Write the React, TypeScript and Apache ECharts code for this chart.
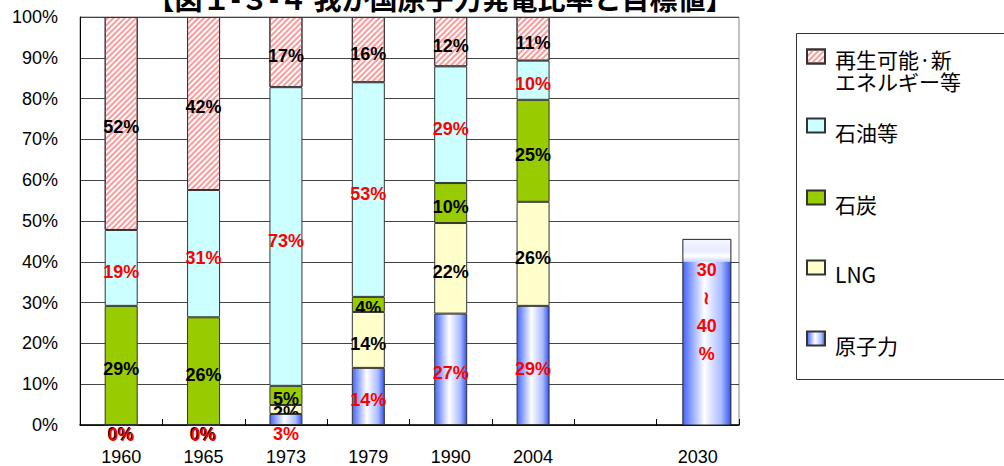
import React, { useEffect, useRef } from 'react';
import * as echarts from 'echarts';

const title = '【図１-３-４ 我が国原子力発電比率と目標値】';
const years = ['1960', '1965', '1973', '1979', '1990', '2004', '', '2030'];
const nuclear = [0, 0, 2.7, 14.0, 27.3, 29.2, null, null];
const lng = [0, 0, 2.2, 13.7, 22.2, 25.5, null, null];
const coal = [29.2, 26.4, 4.7, 3.7, 9.8, 25.0, null, null];
const oil = [18.6, 31.2, 73.2, 52.6, 28.6, 9.6, null, null];
const renewable = [52.2, 42.4, 17.2, 16.0, 12.1, 10.7, null, null];
const target2030Range = [30, 40];
const bar2030 = [40, 5.5]; // solid part, faded top part

const seriesNames = ['原子力', 'LNG', '石炭', '石油等', '再生可能·新エネルギー等'];
const renewableLegendLines = ['再生可能·新', 'エネルギー等'];

const labelFont = { fontFamily: 'Liberation Sans', fontSize: 18, fontWeight: 'bold' as const };

const nuclearGradient = {
  type: 'linear', x: 0, y: 0, x2: 1, y2: 0,
  colorStops: [
    { offset: 0, color: '#4466ff' },
    { offset: 0.45, color: '#ffffff' },
    { offset: 0.8, color: '#aabbff' },
    { offset: 1, color: '#3355ee' },
  ],
};

function fmt(p: any) {
  const v = Array.isArray(p.value) ? p.value[1] : p.value;
  if (v == null || v === '') return '';
  return Math.round(Number(v)) + '%';
}

export default function App() {
  const ref = useRef<HTMLDivElement>(null);
  useEffect(() => {
    document.body.style.margin = '0';
    const chart = echarts.init(ref.current!, null, { renderer: 'svg' });

    const barBase = (name: string, data: any[], color: any, labelColor: string, z: number, extra: any = {}) => ({
      type: 'bar',
      name,
      stack: 'total',
      barWidth: 33,
      z,
      data,
      itemStyle: { color, borderColor: '#333', borderWidth: 1, ...(extra.itemStyle || {}) },
      label: {
        show: true,
        position: 'inside',
        offset: [0, 4],
        formatter: fmt,
        color: labelColor,
        ...labelFont,
      },
    });

    const nuclearData = nuclear.map((v) =>
      v != null && v < 5 ? { value: v, label: { position: 'bottom', distance: 0, offset: [0, 0] } } : v
    );
    const lngData = lng.map((v) =>
      v != null && v === 0 ? { value: v, label: { position: 'bottom', distance: 0, offset: [-1, -1] } } : v
    );

    const legendCommon = {
      orient: 'vertical',
      left: 806,
      padding: 0,
      itemWidth: 18,
      itemHeight: 14,
      icon: 'rect',
      selectedMode: false,
    };
    const legendText = (spacer: number) => ({
      fontFamily: 'Noto Sans CJK JP',
      fontSize: 21,
      color: '#000',
      rich: {
        s: { fontSize: 1, lineHeight: spacer },
        t: { fontFamily: 'Noto Sans CJK JP', fontSize: 21, lineHeight: 22, color: '#000', padding: [0, 0, 0, 5] },
      },
    });
    const single = (name: string) => `{s| }\n{t|${name}}`;

    const option: any = {
      animation: false,
      backgroundColor: '#ffffff',
      grid: {
        left: 80,
        right: 265,
        top: 17,
        bottom: 41,
        show: true,
        borderColor: '#888',
        borderWidth: 1,
        backgroundColor: '#fff',
      },
      xAxis: {
        type: 'category',
        data: years,
        axisLine: { lineStyle: { color: '#000', width: 1.5 } },
        axisTick: { show: true, inside: true, length: 6, lineStyle: { color: '#000' } },
        axisLabel: {
          interval: 0,
          margin: 23,
          color: '#000',
          fontFamily: 'Liberation Sans',
          fontSize: 18,
        },
      },
      yAxis: {
        type: 'value',
        min: 0,
        max: 100,
        interval: 10,
        axisLine: { show: true, lineStyle: { color: '#000', width: 1 } },
        axisTick: { show: false },
        splitLine: { lineStyle: { color: '#444', width: 1 } },
        axisLabel: {
          formatter: '{value}%',
          margin: 22,
          color: '#000',
          fontFamily: 'Liberation Sans',
          fontSize: 18,
          padding: [10, 0, 0, 0],
        },
      },
      legend: [
        {
          ...legendCommon,
          top: 34,
          data: ['再生可能·新エネルギー等'],
          formatter: () => `{s| }\n{t|${renewableLegendLines[0]}}\n{t|${renewableLegendLines[1]}}`,
          textStyle: legendText(27),
        },
        { ...legendCommon, top: 114, data: ['石油等'], formatter: single, textStyle: legendText(12) },
        { ...legendCommon, top: 186, data: ['石炭'], formatter: single, textStyle: legendText(12) },
        { ...legendCommon, top: 256, data: ['LNG'], formatter: single, textStyle: legendText(12) },
        { ...legendCommon, top: 327, data: ['原子力'], formatter: single, textStyle: legendText(12) },
      ],
      graphic: [
        {
          type: 'text',
          x: 440,
          y: -16,
          style: {
            text: title,
            fontSize: 28,
            fontWeight: 'bold',
            fontFamily: 'Noto Sans CJK JP',
            fill: '#000',
            align: 'center',
            verticalAlign: 'top',
          },
        },
        {
          type: 'rect',
          shape: { x: 796.5, y: 33.5, width: 240, height: 346 },
          style: { fill: 'none', stroke: '#333', lineWidth: 1 },
        },
      ],
      series: [
        barBase(seriesNames[0], nuclearData, nuclearGradient, '#ff0000', 5),
        barBase(seriesNames[1], lngData, '#ffffcc', '#000', 4),
        barBase(seriesNames[2], coal, '#99cc00', '#000', 3),
        barBase(seriesNames[3], oil, '#ccffff', '#ff0000', 3),
        barBase(seriesNames[4], renewable, '#ffffff', '#000', 3, {
          itemStyle: {
            decal: {
              symbol: 'rect',
              symbolSize: 1,
              dashArrayX: [1, 0],
              dashArrayY: [1.5, 1.5],
              rotation: -Math.PI / 4,
              color: '#ff9a9a',
            },
          },
        }),
        {
          type: 'custom',
          name: '2030目標',
          z: 6,
          data: [['2030', bar2030[0], bar2030[1]]],
          renderItem: (params: any, api: any) => {
            const xi = api.value(0);
            const solid = api.value(1);
            const faded = api.value(2);
            const base = api.coord([xi, 0]);
            const top1 = api.coord([xi, solid]);
            const top2 = api.coord([xi, solid + faded]);
            const bandW = api.size([1, 0])[0];
            const w = bandW * 0.583;
            const cx = base[0] + bandW * 0.11;
            const x0 = cx - w / 2;
            return {
              type: 'group',
              children: [
                {
                  type: 'rect',
                  shape: { x: x0, y: top2[1], width: w, height: top1[1] - top2[1] },
                  style: {
                    fill: {
                      type: 'linear', x: 0, y: 0, x2: 0, y2: 1,
                      colorStops: [
                        { offset: 0, color: '#f6f7ff' },
                        { offset: 0.5, color: '#e8ecff' },
                        { offset: 0.75, color: '#ffffff' },
                        { offset: 1, color: '#c9d3ff' },
                      ],
                    },
                  },
                },
                {
                  type: 'rect',
                  shape: { x: x0, y: top1[1], width: w, height: base[1] - top1[1] },
                  style: { fill: nuclearGradient },
                },
                {
                  type: 'rect',
                  shape: { x: x0, y: top2[1], width: w, height: base[1] - top2[1] },
                  style: { fill: 'none', stroke: '#222', lineWidth: 1 },
                },
                {
                  type: 'text',
                  x: cx,
                  y: (top2[1] + base[1]) / 2 - 20,
                  style: {
                    text: `${target2030Range[0]}\n≀\n${target2030Range[1]}\n%`,
                    fill: '#ff0000',
                    fontFamily: 'Liberation Sans',
                    fontSize: 18,
                    fontWeight: 'bold',
                    lineHeight: 28,
                    align: 'center',
                    verticalAlign: 'middle',
                  },
                },
              ],
            };
          },
        },
      ],
    };
    chart.setOption(option);
    return () => chart.dispose();
  }, []);
  return (
    <div
      ref={ref}
      style={{ position: 'fixed', left: 0, top: 0, width: 1004, height: 466, background: '#fff' }}
    />
  );
}
